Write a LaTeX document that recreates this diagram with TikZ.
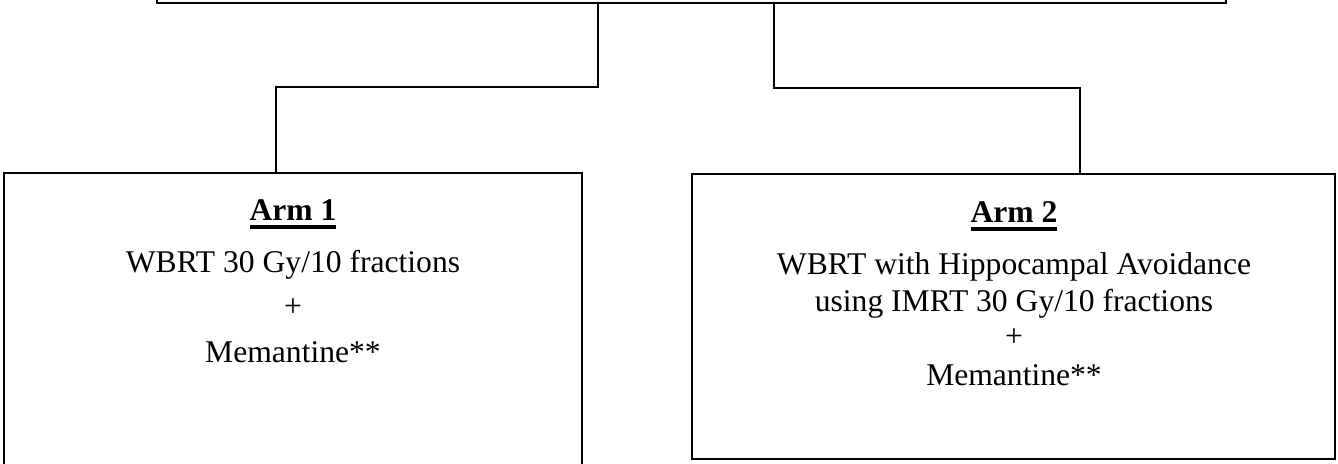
\documentclass[tikz,border=0pt]{standalone}
\usepackage{fontspec}
\setmainfont{Liberation Serif}
\newcommand\armul[1]{\setbox0\hbox{#1}\rlap{\rule[-3.8pt]{\wd0}{1.6pt}}\box0}
\begin{document}
\begin{tikzpicture}[x=0.5pt,y=-0.5pt,
  box/.style={draw, line width=1pt, inner sep=0pt, outer sep=0pt},
  link/.style={draw, line width=1pt},
  txt/.style={anchor=base, inner sep=0pt, font=\fontsize{15.8}{18}\selectfont}]
\useasboundingbox (0,0) rectangle (1338,464);
\clip (0,0) rectangle (1338,464);
% top box (cut off by the top edge)
\node[box, anchor=south west, minimum width=534.5pt, minimum height=40pt] (top) at (157,3) {};
% arm boxes
\node[box, anchor=north west, minimum width=289pt, minimum height=153.5pt] (arm1) at (4,173) {};
\node[box, anchor=north west, minimum width=321.5pt, minimum height=142.5pt] (arm2) at (692,174) {};
% connectors
\coordinate (lk1) at (598,87);
\coordinate (lk2) at (276,87);
\coordinate (rk1) at (774,88);
\coordinate (rk2) at (1080,88);
\draw[link] (top.south -| lk1) -- (lk1) -- (lk2) -- (arm1.north -| lk2);
\draw[link] (top.south -| rk1) -- (rk1) -- (rk2) -- (arm2.north -| rk2);
% texts arm 1
\node[txt] (a1h) at (293,221) {\armul{\textbf{Arm 1}}};
\node[txt] (a1a) at (293,273) {WBRT 30 Gy/10 fractions};
\node[txt] (a1b) at (293,317) {+};
\node[txt] (a1c) at (293,363) {Memantine**};
% texts arm 2
\node[txt] (a2h) at (1014,223) {\armul{\textbf{Arm 2}}};
\node[txt] (a2a) at (1014,275) {WBRT with Hippocampal Avoidance};
\node[txt] (a2b) at (1014,312) {using IMRT 30 Gy/10 fractions};
\node[txt] (a2c) at (1014,347) {+};
\node[txt] (a2d) at (1014,386) {Memantine**};
\end{tikzpicture}
\end{document}
